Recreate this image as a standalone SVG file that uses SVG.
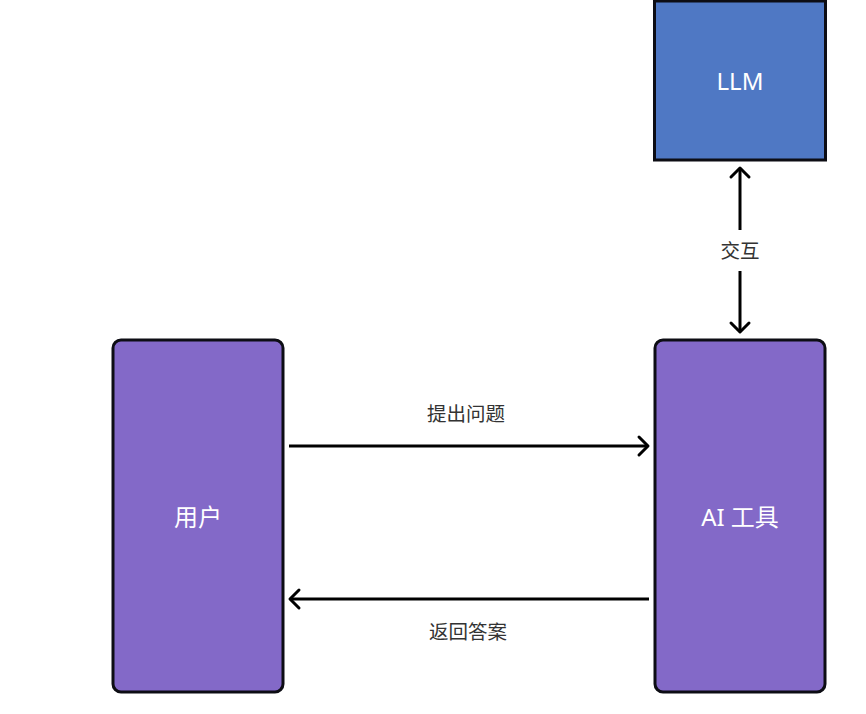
<svg xmlns="http://www.w3.org/2000/svg" width="866" height="714" viewBox="0 0 866 714">
<defs>
<style>
.box{stroke:#0d0d14;stroke-width:3}
.purple{fill:#8369c8}
.blue{fill:#4f78c4}
.nt{fill:#ffffff;font-family:"Noto Sans","Noto Sans CJK SC",sans-serif;font-size:24px;text-anchor:middle;dominant-baseline:central}
.lbl{fill:#333333;font-family:"Noto Sans","Noto Sans CJK SC",sans-serif;font-size:19.5px;text-anchor:middle;dominant-baseline:central}
.ln{stroke:#000;stroke-width:3;fill:none}
.ah{stroke:#000;stroke-width:3;fill:none;stroke-linecap:round;stroke-linejoin:round}
</style>
</defs>
<rect width="866" height="714" fill="#ffffff"/>
<g id="llm">
<rect class="box blue" x="654.5" y="1" width="171" height="159"/>
<text class="nt" x="740" y="80">LLM</text>
</g>
<g id="user">
<rect class="box purple" x="113" y="340" width="170" height="352" rx="8"/>
<text class="nt" x="198" y="516">用户</text>
</g>
<g id="ai">
<rect class="box purple" x="655" y="340" width="170" height="352" rx="8"/>
<text class="nt" x="740" y="516">AI 工具</text>
</g>
<g id="connectors">
<line class="ln" x1="740" y1="168" x2="740" y2="230"/>
<polyline class="ah" points="731,177 740,168 749,177"/>
<line class="ln" x1="740" y1="271" x2="740" y2="332"/>
<polyline class="ah" points="731,323 740,332 749,323"/>
<text class="lbl" x="740" y="250">交互</text>
<line class="ln" x1="289" y1="446" x2="648" y2="446"/>
<polyline class="ah" points="639,437 648,446 639,455"/>
<text class="lbl" x="466" y="413">提出问题</text>
<line class="ln" x1="290" y1="599" x2="649" y2="599"/>
<polyline class="ah" points="299,590 290,599 299,608"/>
<text class="lbl" x="468" y="631">返回答案</text>
</g>
</svg>
